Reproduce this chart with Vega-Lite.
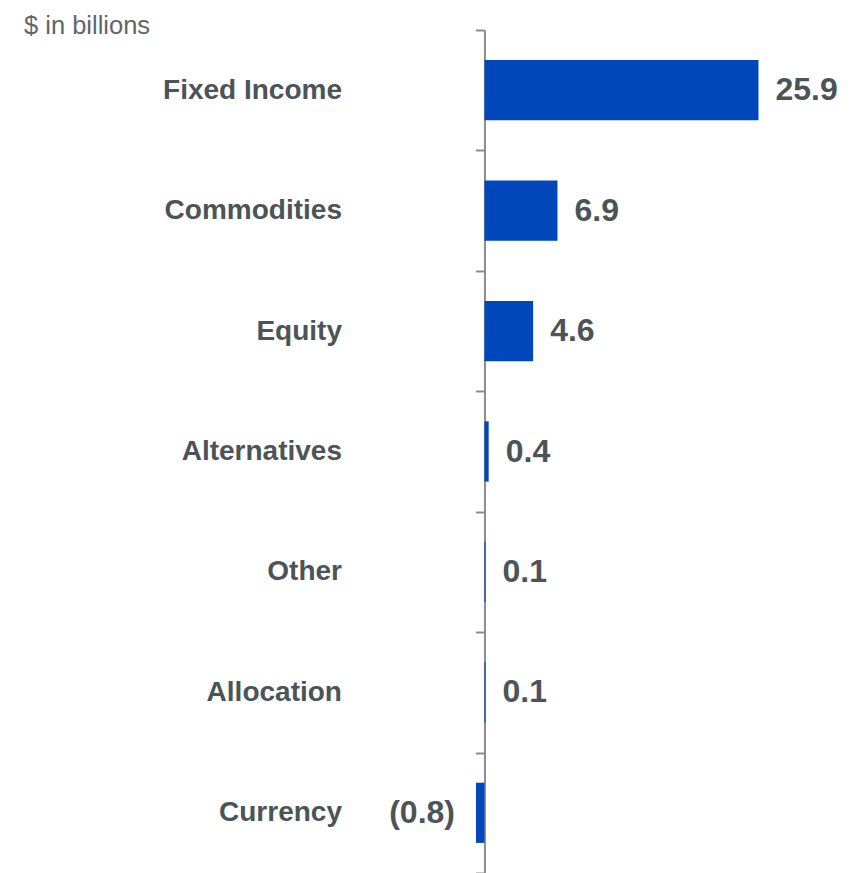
{
  "$schema": "https://vega.github.io/schema/vega-lite/v6.json",
  "width": 383,
  "height": 843,
  "autosize": {"type": "none"},
  "padding": {"left": 476, "top": 30, "right": 0, "bottom": 0},
  "background": "white",
  "data": {
    "values": [
      {"category": "Fixed Income", "value": 25.9, "label": "25.9"},
      {"category": "Commodities", "value": 6.9, "label": "6.9"},
      {"category": "Equity", "value": 4.6, "label": "4.6"},
      {"category": "Alternatives", "value": 0.4, "label": "0.4"},
      {"category": "Other", "value": 0.1, "label": "0.1"},
      {"category": "Allocation", "value": 0.1, "label": "0.1"},
      {"category": "Currency", "value": -0.8, "label": "(0.8)"}
    ]
  },
  "encoding": {
    "y": {
      "field": "category",
      "type": "nominal",
      "sort": null,
      "scale": {"paddingInner": 0, "paddingOuter": 0},
      "axis": {
        "title": "$ in billions",
        "titleAngle": 0,
        "titleX": -461,
        "titleY": 3,
        "titleAlign": "left",
        "titleBaseline": "alphabetic",
        "titleFont": "Liberation Sans",
        "titleFontSize": 25.5,
        "titleFontWeight": "normal",
        "titleColor": "#5f6669",
        "tickBand": "extent",
        "tickSize": 9,
        "tickColor": "#8c8c8c",
        "tickWidth": 2,
        "domainColor": "#8c8c8c",
        "domainWidth": 2,
        "labelPadding": 134,
        "labelFont": "Liberation Sans",
        "labelFontSize": 28,
        "labelFontWeight": "bold",
        "labelColor": "#4b5457",
        "labelAlign": "right",
        "labelBaseline": "middle",
        "offset": -8.46,
        "grid": false
      }
    }
  },
  "layer": [
    {
      "mark": {"type": "bar", "color": "#0047BB", "height": {"band": 0.5}},
      "encoding": {
        "x": {
          "field": "value",
          "type": "quantitative",
          "scale": {"domain": [-0.8, 35.4], "nice": false, "zero": false},
          "axis": null
        }
      }
    },
    {
      "transform": [{"filter": "datum.value >= 0"}],
      "mark": {
        "type": "text",
        "align": "left",
        "baseline": "middle",
        "dx": 17,
        "font": "Liberation Sans",
        "fontSize": 32,
        "fontWeight": "bold",
        "color": "#4b5457"
      },
      "encoding": {
        "x": {"field": "value", "type": "quantitative"},
        "text": {"field": "label"}
      }
    },
    {
      "transform": [{"filter": "datum.value < 0"}],
      "mark": {
        "type": "text",
        "align": "right",
        "baseline": "middle",
        "dx": -21,
        "font": "Liberation Sans",
        "fontSize": 32,
        "fontWeight": "bold",
        "color": "#4b5457"
      },
      "encoding": {
        "x": {"field": "value", "type": "quantitative"},
        "text": {"field": "label"}
      }
    }
  ],
  "config": {"view": {"stroke": null}}
}
